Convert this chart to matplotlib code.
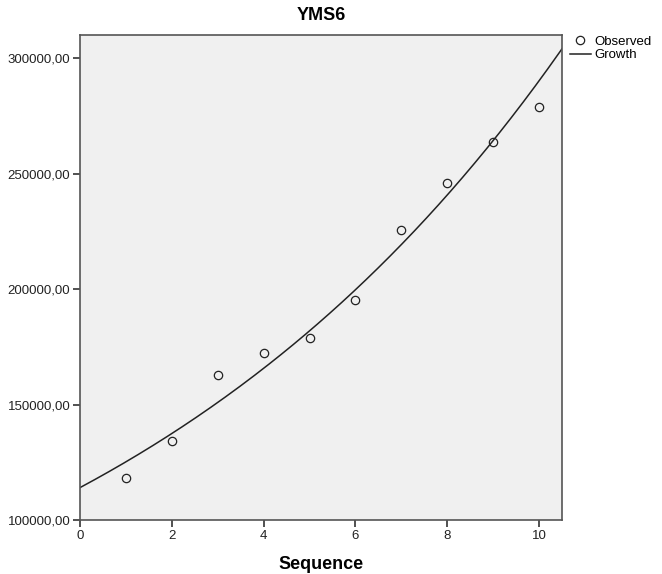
import numpy as np
import matplotlib
matplotlib.use("Agg")
import matplotlib.pyplot as plt
from matplotlib.ticker import FuncFormatter

plt.rcParams['font.family'] = ['Liberation Sans', 'DejaVu Sans']

sequence = [1, 2, 3, 4, 5, 6, 7, 8, 9, 10]
observed = [118200, 134000, 163000, 172300, 178700, 195200, 225400, 246000, 263600, 278800]

x_ticks = [0, 2, 4, 6, 8, 10]
y_ticks = [100000, 150000, 200000, 250000, 300000]

# growth model: ln(y) = b0 + b1*t, fitted to observed
b1, b0 = np.polyfit(sequence, np.log(observed), 1)
t = np.linspace(0, 10.5, 200)
growth = np.exp(b0 + b1 * t)

fig = plt.figure(figsize=(6.62, 5.74), dpi=100)
ax = fig.add_axes([80 / 662, 1 - 520 / 574, 482 / 662, 485 / 574])
ax.set_facecolor('#f0f0f0')

ax.plot(t, growth, color='#222222', lw=1.1, label='Growth', zorder=2)
ax.plot(sequence, observed, 'o', ms=6, mfc='none', mec='#222222', mew=0.9,
        label='Observed', zorder=3)

ax.set_xlim(0, 10.5)
ax.set_ylim(100000, 310000)
ax.set_xticks(x_ticks)
ax.set_yticks(y_ticks)
ax.yaxis.set_major_formatter(FuncFormatter(lambda v, p: f"{v:.2f}".replace('.', ',')))

for s in ax.spines.values():
    s.set_color('#555555')
    s.set_linewidth(1.2)
ax.tick_params(direction='out', length=5, width=1.2, color='#333333',
               labelsize=9.5, labelcolor='#222222', pad=2)

ax.set_title('YMS6', fontsize=13, fontweight='bold', pad=11)
ax.set_xlabel('Sequence', fontsize=13, fontweight='bold', labelpad=10)

h, l = ax.get_legend_handles_labels()
ax.legend([h[1], h[0]], [l[1], l[0]], loc='upper left', bbox_to_anchor=(1.005, 1.01),
          frameon=False, fontsize=9.5, handlelength=1.6, handletextpad=0.3,
          labelspacing=0.1, borderaxespad=0)

fig.savefig('out.png', dpi=100, facecolor='white')
